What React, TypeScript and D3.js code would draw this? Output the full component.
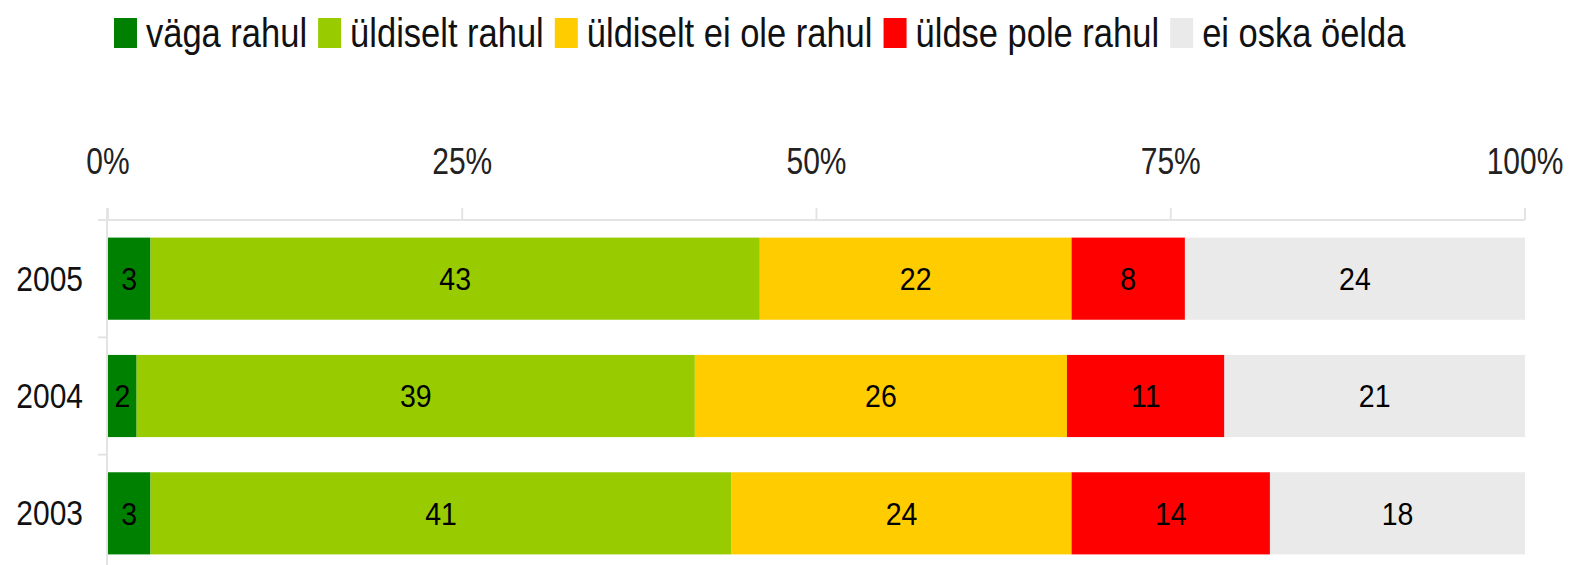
import React from "react";
import * as d3 from "d3";

const categories = ["2005", "2004", "2003"];
const seriesNames = ["väga rahul", "üldiselt rahul", "üldiselt ei ole rahul", "üldse pole rahul", "ei oska öelda"];
const seriesColors = ["#008000", "#99cc00", "#ffcc00", "#ff0000", "#eaeaea"];
const vagaRahul = [3, 2, 3];
const uldiseltRahul = [43, 39, 41];
const uldiseltEiOleRahul = [22, 26, 24];
const uldsePoleRahul = [8, 11, 14];
const eiOskaOelda = [24, 21, 18];
const tickValues = [0, 25, 50, 75, 100];

const W = 1572;
const H = 565;
const FONT = "'Liberation Sans', Arial, sans-serif";

function measure(text: string, size: number): number {
  if (typeof document === "undefined") return text.length * size * 0.5;
  const c = document.createElement("canvas");
  const ctx = c.getContext("2d");
  if (!ctx) return text.length * size * 0.5;
  ctx.font = `${size}px 'Liberation Sans', Arial, sans-serif`;
  return ctx.measureText(text).width;
}

export default function App() {
  const series = [vagaRahul, uldiseltRahul, uldiseltEiOleRahul, uldsePoleRahul, eiOskaOelda];
  const rows = categories.map((c, i) => {
    const vals = series.map((s) => s[i]);
    const total = d3.sum(vals);
    let acc = 0;
    return {
      cat: c,
      segs: vals.map((v, k) => {
        const start = acc;
        acc += (v / total) * 100;
        return { k, v, start, end: acc };
      }),
    };
  });

  const x = d3.scaleLinear().domain([0, 100]).range([108, 1525]);
  const y = d3.scaleBand<string>().domain(categories).range([220, 572]).paddingInner(0.3).paddingOuter(0.15);
  const axisColor = "#e4e4e4";

  // legend layout
  const legendSize = 34.5;
  const legendItems: { x: number; tx: number; name: string; color: string }[] = [];
  let lx = 114;
  seriesNames.forEach((n, i) => {
    const tx = lx + 23 + 9;
    legendItems.push({ x: lx, tx, name: n, color: seriesColors[i] });
    lx = tx + measure(n, legendSize) + 11;
  });

  const bounds = [y.range()[0], ...categories.slice(1).map((c, i) => (y(categories[i])! + y.bandwidth() + y(c)!) / 2)];

  return (
    <svg width={W} height={H} style={{ position: "absolute", left: 0, top: 0, background: "#fff" }} fontFamily={FONT}>
      {/* legend */}
      {legendItems.map((l) => (
        <g key={l.name}>
          <rect x={l.x} y={18} width={23} height={30} fill={l.color} />
          <text transform={`translate(${l.tx},46.7) scale(1,1.19)`} fontSize={legendSize} fill="#111">
            {l.name}
          </text>
        </g>
      ))}

      {/* axis */}
      <line x1={x(0) - 1} x2={x(0) - 1} y1={208} y2={H} stroke={axisColor} strokeWidth={2} />
      <line x1={98} x2={x(100)} y1={220} y2={220} stroke={axisColor} strokeWidth={2} />
      {tickValues.map((t) => (
        <g key={t}>
          <line x1={x(t)} x2={x(t)} y1={208} y2={220} stroke={axisColor} strokeWidth={2} />
          <text transform={`translate(${x(t)},174) scale(1,1.2)`} fontSize={30} textAnchor="middle" fill="#222">
            {t}%
          </text>
        </g>
      ))}
      {bounds.slice(1).map((b, i) => (
        <line key={i} x1={98} x2={x(0) - 1} y1={b} y2={b} stroke={axisColor} strokeWidth={2} />
      ))}

      {/* bars */}
      {rows.map((r) => {
        const y0 = y(r.cat)!;
        const bh = y.bandwidth();
        const cy = y0 + bh / 2;
        return (
          <g key={r.cat}>
            <text transform={`translate(83,${cy + 12}) scale(1,1.17)`} fontSize={30} textAnchor="end" fill="#111">
              {r.cat}
            </text>
            {r.segs.map((s) => (
              <rect key={s.k} x={x(s.start)} y={y0} width={x(s.end) - x(s.start)} height={bh} fill={seriesColors[s.k]} />
            ))}
            {r.segs.map((s) => (
              <text
                key={"t" + s.k}
                transform={`translate(${(x(s.start) + x(s.end)) / 2},${cy + 11.3}) scale(1,1.11)`}
                fontSize={28.5}
                textAnchor="middle"
                fill="#000"
              >
                {s.v}
              </text>
            ))}
          </g>
        );
      })}
    </svg>
  );
}
